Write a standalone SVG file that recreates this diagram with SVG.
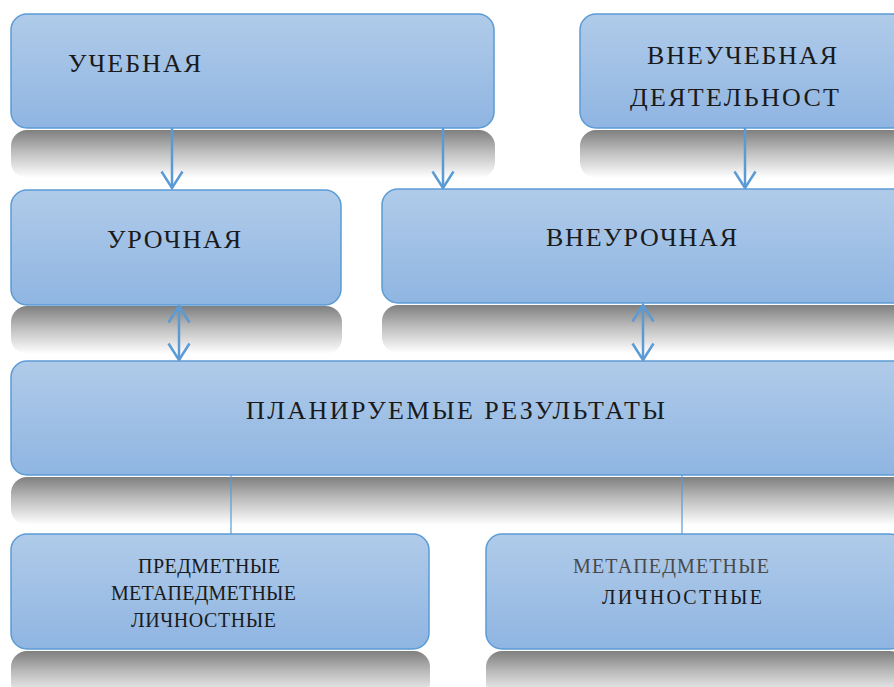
<svg xmlns="http://www.w3.org/2000/svg" width="894" height="687" viewBox="0 0 894 687">
<defs>
<linearGradient id="boxg" x1="0" y1="0" x2="0" y2="1">
<stop offset="0" stop-color="#b0cbe9"/>
<stop offset="1" stop-color="#8fb5e2"/>
</linearGradient>
<linearGradient id="refg" x1="0" y1="0" x2="0" y2="1">
<stop offset="0" stop-color="#7f7f7f"/>
<stop offset="0.45" stop-color="#bdbdbd"/>
<stop offset="1" stop-color="#ffffff"/>
</linearGradient>
<marker id="ah" viewBox="0 0 20 24" refX="18" refY="12" markerWidth="20" markerHeight="24" markerUnits="userSpaceOnUse" orient="auto-start-reverse">
<path d="M1.5,1.5 L18,12 L1.5,22.5" fill="none" stroke="#5b9bd5" stroke-width="2.5"/>
</marker>
</defs>
<style>
.box{fill:url(#boxg);stroke:#5b9bd5;stroke-width:1.5}
.ref{fill:url(#refg);stroke:none}
.t{font-family:"Liberation Serif","DejaVu Serif",serif;font-size:26px;fill:#1a1a1a}
.s{font-family:"Liberation Serif","DejaVu Serif",serif;font-size:20px;fill:#1a1a1a}
.arr{stroke:#5b9bd5;stroke-width:2.5;fill:none}
.ln{stroke:#5b9bd5;stroke-width:1.2;fill:none}
</style>
<rect width="894" height="687" fill="#ffffff"/>
<g id="reflections">
<rect class="ref" x="11" y="130" width="484" height="48" rx="16"/>
<rect class="ref" x="580" y="130" width="330" height="48" rx="16"/>
<rect class="ref" x="11" y="306" width="331" height="48" rx="16"/>
<rect class="ref" x="382" y="305" width="530" height="48" rx="16"/>
<rect class="ref" x="11" y="477" width="900" height="48" rx="16"/>
<rect class="ref" x="11" y="651" width="419" height="48" rx="16"/>
<rect class="ref" x="486" y="651" width="420" height="48" rx="16"/>
</g>
<g id="connectors">
<line class="arr" x1="172" y1="128" x2="172" y2="188" marker-end="url(#ah)"/>
<line class="arr" x1="443" y1="128" x2="443" y2="188" marker-end="url(#ah)"/>
<line class="arr" x1="745" y1="128" x2="745" y2="188" marker-end="url(#ah)"/>
<line class="arr" x1="179" y1="306" x2="179" y2="360" marker-start="url(#ah)" marker-end="url(#ah)"/>
<line class="arr" x1="643" y1="305" x2="643" y2="360" marker-start="url(#ah)" marker-end="url(#ah)"/>
<line class="ln" x1="231" y1="475" x2="231" y2="534"/>
<line class="ln" x1="682" y1="475" x2="682" y2="534"/>
</g>
<g id="n-uchebnaya">
<rect class="box" x="11" y="14" width="483" height="114" rx="16"/>
<text class="t" x="68" y="72" textLength="133">УЧЕБНАЯ</text>
</g>
<g id="n-vneuchebnaya">
<rect class="box" x="580" y="14" width="330" height="114" rx="16"/>
<text class="t" x="647" y="64" textLength="190">ВНЕУЧЕБНАЯ</text>
<text class="t" x="630" y="106" textLength="209">ДЕЯТЕЛЬНОСТ</text>
</g>
<g id="n-urochnaya">
<rect class="box" x="11" y="190" width="330" height="115" rx="16"/>
<text class="t" x="107" y="248" textLength="134">УРОЧНАЯ</text>
</g>
<g id="n-vneurochnaya">
<rect class="box" x="382" y="189" width="530" height="114" rx="16"/>
<text class="t" x="546" y="246" textLength="191">ВНЕУРОЧНАЯ</text>
</g>
<g id="n-planiruemye">
<rect class="box" x="11" y="361" width="900" height="114" rx="16"/>
<text class="t" x="246" y="419" textLength="419">ПЛАНИРУЕМЫЕ РЕЗУЛЬТАТЫ</text>
</g>
<g id="n-predmetnye">
<rect class="box" x="11" y="534" width="418" height="115" rx="16"/>
<text class="s" x="138" y="573" textLength="142">ПРЕДМЕТНЫЕ</text>
<text class="s" x="111" y="600" textLength="185">МЕТАПЕДМЕТНЫЕ</text>
<text class="s" x="131" y="627" textLength="145">ЛИЧНОСТНЫЕ</text>
</g>
<g id="n-metapredmetnye">
<rect class="box" x="486" y="534" width="420" height="115" rx="16"/>
<text class="s" x="573" y="573" textLength="196" style="fill:#4a4a4a">МЕТАПЕДМЕТНЫЕ</text>
<text class="s" x="602" y="604" textLength="160">ЛИЧНОСТНЫЕ</text>
</g>
</svg>
